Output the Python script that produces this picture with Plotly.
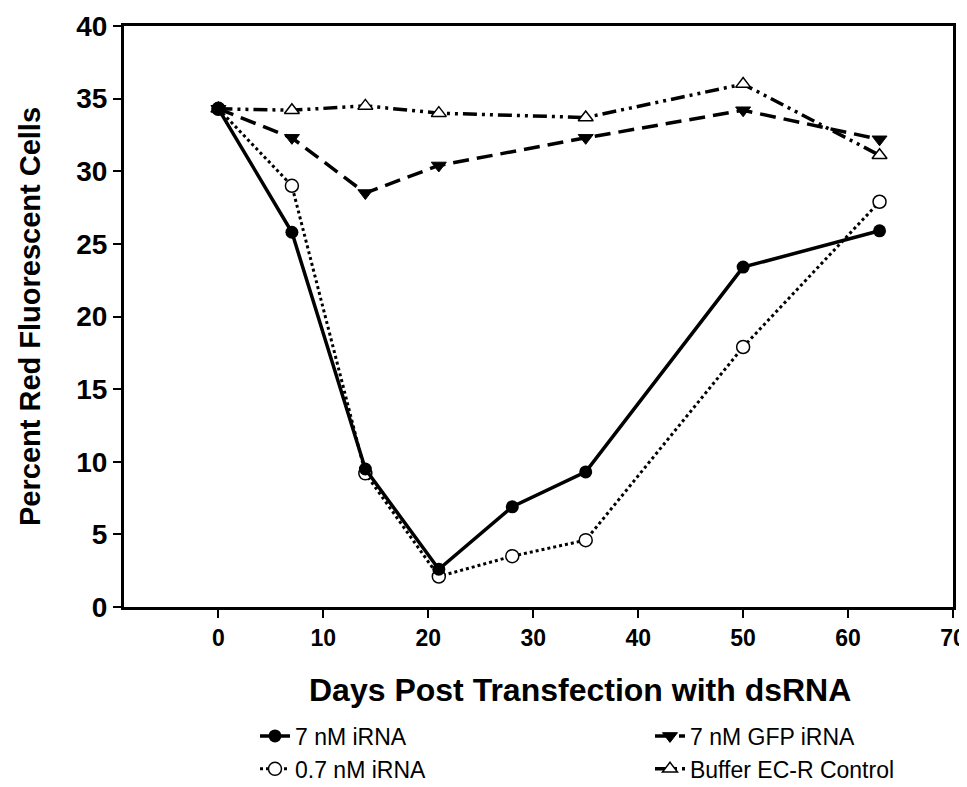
import plotly.graph_objects as go

# ---- data ----
days_irna = [0, 7, 14, 21, 28, 35, 50, 63]
irna_7nM = [34.3, 25.8, 9.5, 2.6, 6.9, 9.3, 23.4, 25.9]
irna_07nM = [34.3, 29.0, 9.2, 2.1, 3.5, 4.6, 17.9, 27.9]

days_ctrl = [0, 7, 14, 21, 35, 50, 63]
gfp_7nM = [34.3, 32.3, 28.5, 30.4, 32.3, 34.2, 32.2]
buffer_ctrl = [34.3, 34.2, 34.5, 34.0, 33.7, 36.0, 31.1]

x_ticks = [0, 10, 20, 30, 40, 50, 60, 70]
y_ticks = [0, 5, 10, 15, 20, 25, 30, 35, 40]

FONT = "Liberation Sans, Arial, sans-serif"

fig = go.Figure()

fig.add_trace(go.Scatter(
    x=days_ctrl, y=buffer_ctrl, name="Buffer EC-R Control", mode="lines+markers",
    line=dict(color="black", width=3.5, dash="14px,5px,3px,5px,3px,5px"),
    marker=dict(symbol="triangle-up", size=13, color="white",
                line=dict(color="black", width=1.5)),
    legendrank=4,
))
fig.add_trace(go.Scatter(
    x=days_ctrl, y=gfp_7nM, name="7 nM GFP iRNA", mode="lines+markers",
    line=dict(color="black", width=3.5, dash="16px,8px"),
    marker=dict(symbol="triangle-down", size=13, color="black",
                line=dict(color="black", width=1)),
    legendrank=2,
))
fig.add_trace(go.Scatter(
    x=days_irna, y=irna_07nM, name="0.7 nM iRNA", mode="lines+markers",
    line=dict(color="black", width=3, dash="dot"),
    marker=dict(symbol="circle", size=13, color="white",
                line=dict(color="black", width=1.5)),
    legendrank=3,
))
fig.add_trace(go.Scatter(
    x=days_irna, y=irna_7nM, name="7 nM iRNA", mode="lines+markers",
    line=dict(color="black", width=3.5),
    marker=dict(symbol="circle", size=13, color="black"),
    legendrank=1,
))

fig.update_layout(
    width=967, height=787,
    margin=dict(l=116, r=22, t=18, b=188, autoexpand=False),
    paper_bgcolor="white", plot_bgcolor="white",
    font=dict(family=FONT, color="black"),
    showlegend=True,
    legend=dict(
        orientation="h", x=0.158, xanchor="left", y=-0.185, yanchor="top",
        entrywidth=350, entrywidthmode="pixels",
        font=dict(family=FONT, size=23, color="black"),
        bgcolor="rgba(0,0,0,0)", tracegroupgap=0,
        traceorder="normal",
    ),
    xaxis=dict(
        range=[-9, 70], tickmode="array", tickvals=x_ticks,
        ticktext=[str(v) for v in x_ticks],
        showline=True, linecolor="black", linewidth=3, mirror=True,
        ticks="outside", ticklen=8, tickwidth=2, tickcolor="black",
        showgrid=False, zeroline=False,
        tickfont=dict(family=FONT, size=23, weight="bold", color="black"),
    ),
    yaxis=dict(
        range=[0, 40], tickmode="array", tickvals=y_ticks,
        ticktext=[str(v) for v in y_ticks],
        showline=True, linecolor="black", linewidth=3, mirror=True,
        ticks="outside", ticklen=8, tickwidth=2, tickcolor="black",
        showgrid=False, zeroline=False,
        tickfont=dict(family=FONT, size=28, weight="bold", color="black"),
        title=dict(text="Percent Red Fluorescent Cells", standoff=28,
                   font=dict(family=FONT, size=29, weight="bold", color="black")),
    ),
    annotations=[dict(
        text="Days Post Transfection with dsRNA", xref="paper", yref="paper",
        x=0.55, y=-0.142, xanchor="center", yanchor="middle", showarrow=False,
        font=dict(family=FONT, size=32, weight="bold", color="black"),
    )],
)

fig.write_html("out.html")
